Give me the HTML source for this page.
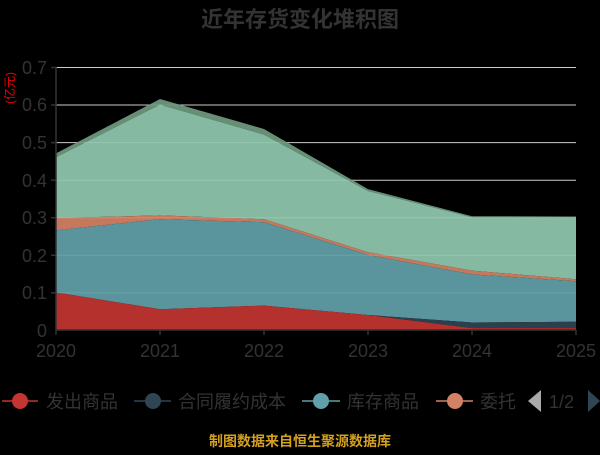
<!DOCTYPE html><html><head><meta charset="utf-8"><style>body{margin:0;background:#000}</style></head><body>
<svg width="600" height="450" xmlns="http://www.w3.org/2000/svg" font-family="Liberation Sans, Noto Sans CJK SC, sans-serif">
<rect width="600" height="450" fill="#000"/>
<text x="300" y="27" text-anchor="middle" font-size="22" font-weight="bold" fill="#333">近年存货变化堆积图</text>
<g stroke="#ccc" stroke-width="1">
<line x1="56" x2="576" y1="67.5" y2="67.5"/><line x1="56" x2="576" y1="105" y2="105"/><line x1="56" x2="576" y1="142.6" y2="142.6"/><line x1="56" x2="576" y1="180.2" y2="180.2"/><line x1="56" x2="576" y1="217.7" y2="217.7"/><line x1="56" x2="576" y1="255.3" y2="255.3"/><line x1="56" x2="576" y1="292.9" y2="292.9"/>
</g>
<g opacity="0.93">
<polygon fill="#6e9a7f" points="56,153.4 160,99 264,129 368,189.1 472,216.2 576,216.5 576,217.3 472,217.3 368,191 264,134.6 160,104.6 56,157.2"/>
<polygon fill="#91c7ae" points="56,157.2 160,104.6 264,134.6 368,191 472,217.3 576,217.3 576,279.3 472,270.6 368,252.2 264,219.2 160,215.4 56,218"/>
<polygon fill="#d48265" points="56,218 160,215.4 264,219.2 368,252.2 472,270.6 576,279.3 576,281.2 472,274.4 368,254.9 264,222.2 160,219.2 56,230.4"/>
<polygon fill="#61a0a8" points="56,230.4 160,219.2 264,222.2 368,254.9 472,274.4 576,281.2 576,321.7 472,322.5 368,315 264,305.6 160,309.3 56,292.4"/>
<polygon fill="#2f4554" points="56,292.4 160,309.3 264,305.6 368,315 472,322.5 576,321.7 576,328.1 472,328.1 368,315 264,305.6 160,309.3 56,292.4"/>
<polygon fill="#c23531" points="56,292.4 160,309.3 264,305.6 368,315 472,328.1 576,328.1 576,330 56,330"/>
</g>
<g stroke="#333" stroke-width="1.5"><line x1="56" y1="67" x2="56" y2="330"/><line x1="56" y1="330" x2="576" y2="330"/>
<line x1="56" y1="330" x2="56" y2="335"/><line x1="160" y1="330" x2="160" y2="335"/><line x1="264" y1="330" x2="264" y2="335"/><line x1="368" y1="330" x2="368" y2="335"/><line x1="472" y1="330" x2="472" y2="335"/><line x1="576" y1="330" x2="576" y2="335"/>
<line x1="51" y1="67.5" x2="56" y2="67.5"/><line x1="51" y1="105" x2="56" y2="105"/><line x1="51" y1="142.6" x2="56" y2="142.6"/><line x1="51" y1="180.2" x2="56" y2="180.2"/><line x1="51" y1="217.7" x2="56" y2="217.7"/><line x1="51" y1="255.3" x2="56" y2="255.3"/><line x1="51" y1="292.9" x2="56" y2="292.9"/></g>
<g fill="#333" font-size="18" text-anchor="end">
<text x="47" y="74">0.7</text><text x="47" y="111">0.6</text><text x="47" y="149">0.5</text><text x="47" y="187">0.4</text><text x="47" y="224">0.3</text><text x="47" y="262">0.2</text><text x="47" y="299">0.1</text><text x="47" y="337">0</text></g>
<g fill="#333" font-size="18" text-anchor="middle">
<text x="56" y="357">2020</text><text x="160" y="357">2021</text><text x="264" y="357">2022</text><text x="368" y="357">2023</text><text x="472" y="357">2024</text><text x="576" y="357">2025</text></g>
<text transform="translate(14,88) rotate(-90)" text-anchor="middle" font-size="12" fill="#e00">(亿元)</text>
<g font-size="18" fill="#333">
<line x1="2" x2="38" y1="401" y2="401" stroke="#c23531" stroke-width="1.5"/><circle cx="20" cy="401" r="8" fill="#c23531"/><text x="46" y="408">发出商品</text>
<line x1="134" x2="171" y1="401" y2="401" stroke="#2f4554" stroke-width="1.5"/><circle cx="153" cy="401" r="8" fill="#2f4554"/><text x="178" y="408">合同履约成本</text>
<line x1="302" x2="340" y1="401" y2="401" stroke="#61a0a8" stroke-width="1.5"/><circle cx="321" cy="401" r="8" fill="#61a0a8"/><text x="347" y="408">库存商品</text>
<line x1="436" x2="473" y1="401" y2="401" stroke="#d48265" stroke-width="1.5"/><circle cx="455" cy="401" r="8" fill="#d48265"/><text x="480" y="408">委托</text>
<polygon points="541,390 541,412 528,401" fill="#aaa"/><text x="549" y="408">1/2</text><polygon points="588,390 588,412 600,401" fill="#2f4554"/>
</g>
<text x="300" y="446" text-anchor="middle" font-size="14" font-weight="bold" fill="#d4a020">制图数据来自恒生聚源数据库</text>
</svg></body></html>
